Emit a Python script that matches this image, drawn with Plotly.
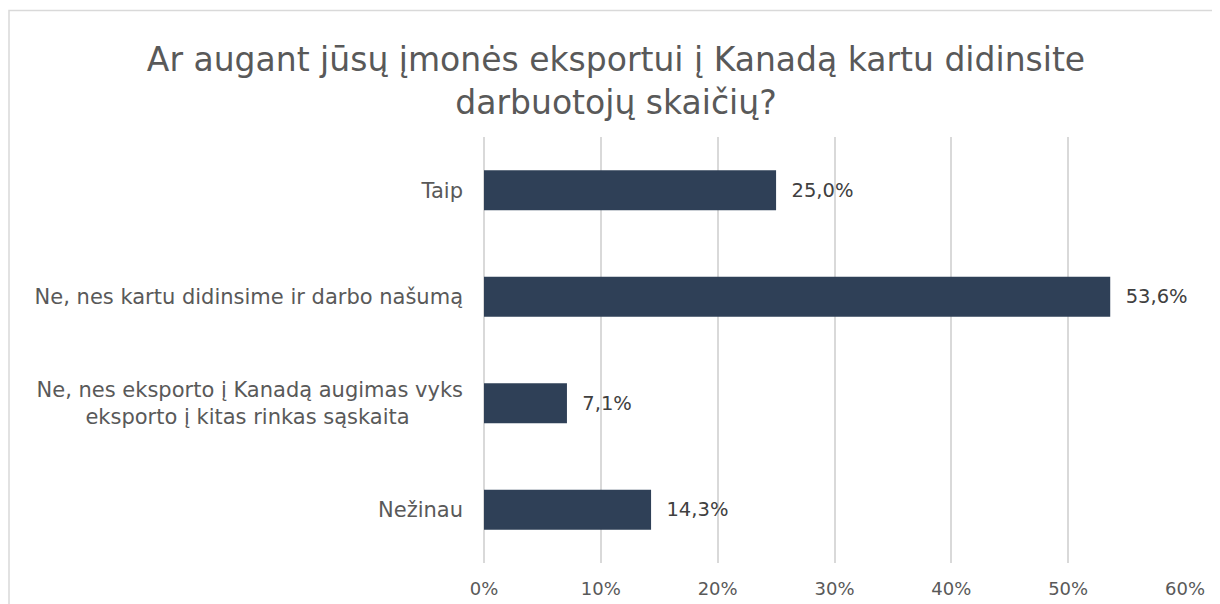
import plotly.graph_objects as go

categories = [
    "Taip",
    "Ne, nes kartu didinsime ir darbo našumą",
    "Ne, nes eksporto į Kanadą augimas vyks<br>eksporto į kitas rinkas sąskaita" + "\u00a0" * 8,
    "Nežinau",
]
values = [0.250, 0.536, 0.071, 0.143]
x_ticks = [0, 0.1, 0.2, 0.3, 0.4, 0.5, 0.6]

title_text = "Ar augant jūsų įmonės eksportui į Kanadą kartu didinsite<br>darbuotojų skaičių?"

FONT = "DejaVu Sans, sans-serif"
GRID = "#D9D9D9"

# the page body has an 8px margin; the figure is sized to fit the window
W, H = 1212, 596
L, R, T, B = 476, 35, 129, 41
PW = W - L - R
PH = H - T - B

fig = go.Figure(
    go.Bar(
        x=values,
        y=categories,
        orientation="h",
        marker=dict(color="#2F4057", line=dict(width=0)),
        width=0.375,
        texttemplate="\u00a0\u00a0%{x:.1%}",
        textposition="outside",
        textfont=dict(family=FONT, size=19.5, color="#404040"),
        cliponaxis=False,
        hoverinfo="skip",
    )
)

fig.update_layout(
    width=W,
    height=H,
    separators=", ",
    paper_bgcolor="white",
    plot_bgcolor="white",
    showlegend=False,
    margin=dict(l=L, r=R, t=T, b=B, autoexpand=False),
    title=dict(
        text=title_text,
        x=608 / W,
        xref="container",
        xanchor="center",
        y=1 - 63 / H,
        yref="container",
        yanchor="middle",
        font=dict(family=FONT, size=33, color="#595959"),
    ),
    xaxis=dict(
        range=[0, 0.6],
        tickvals=x_ticks,
        tickformat=".0%",
        showgrid=True,
        gridcolor=GRID,
        gridwidth=1.5,
        zeroline=True,
        zerolinecolor=GRID,
        zerolinewidth=1.5,
        showline=False,
        ticks="",
        ticklabelstandoff=13,
        automargin=False,
        tickfont=dict(family=FONT, size=18, color="#595959"),
        fixedrange=True,
    ),
    yaxis=dict(
        autorange="reversed",
        showgrid=False,
        zeroline=False,
        showline=False,
        ticks="",
        ticklabelstandoff=20,
        automargin=False,
        tickfont=dict(family=FONT, size=21, color="#595959"),
        fixedrange=True,
    ),
    shapes=[
        dict(
            type="rect",
            xref="paper",
            yref="paper",
            x0=(1 - L) / PW,
            x1=(W + 40 - L) / PW,
            y0=(PH - (H + 60 - T)) / PH,
            y1=(PH - (2.5 - T)) / PH,
            line=dict(color=GRID, width=1.5),
            fillcolor="rgba(0,0,0,0)",
            layer="below",
        )
    ],
)

fig.write_html("out.html")
